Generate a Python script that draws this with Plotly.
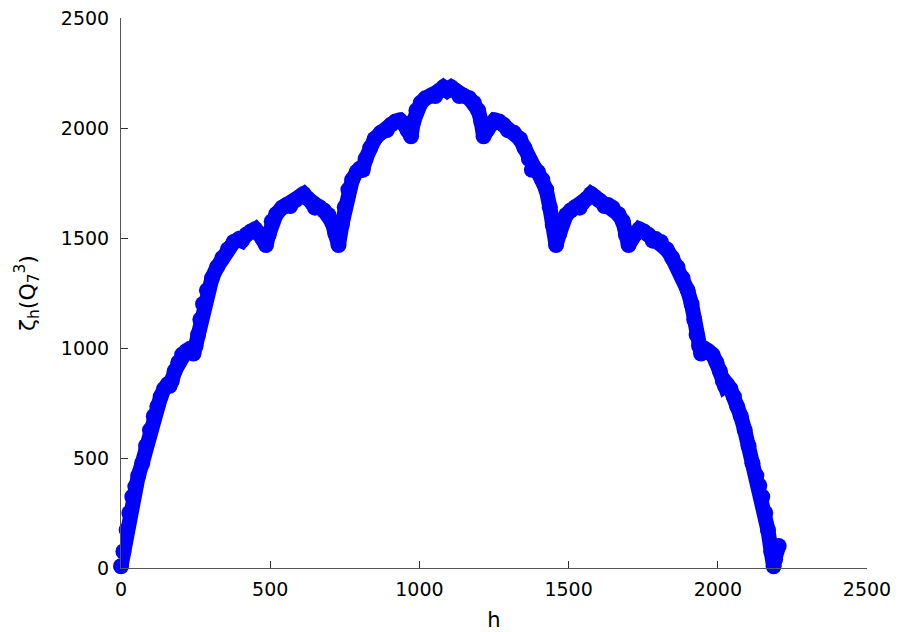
import plotly.graph_objects as go

# h values (number of vertices) and zeta_h(Q_7^3)
h_vals = [
    0, 8, 19, 28, 38, 48, 58, 71, 84, 97, 110, 122, 133, 145, 156, 163, 170, 180, 192, 205,
    218, 230, 243, 250, 258, 266, 275, 288, 305, 322, 340, 358, 378, 395, 405, 420, 435, 450,
    462, 475, 486, 495, 505, 520, 540, 555, 567, 585, 600, 612, 625, 640, 650, 665, 680, 695,
    708, 718, 729,
    740, 750, 762, 775, 790, 800, 810, 820, 835, 850, 870, 891, 905, 920, 935, 950, 960, 972,
    980, 990, 1005, 1020, 1040, 1053, 1065, 1080, 1093,
    1107, 1122, 1134, 1147, 1167, 1182, 1197, 1207, 1215, 1227, 1237, 1252, 1267, 1282, 1296,
    1317, 1337, 1352, 1367, 1377, 1387, 1397, 1412, 1425, 1437, 1447, 1458,
    1469, 1479, 1492, 1507, 1522, 1537, 1547, 1562, 1575, 1587, 1602, 1620, 1632, 1647, 1667,
    1682, 1692, 1701, 1712, 1725, 1737, 1752, 1767, 1782, 1792, 1809, 1829, 1847, 1865, 1882,
    1899, 1912, 1921, 1929, 1937, 1944, 1957, 1969, 1982, 1995, 2007, 2017, 2024, 2031, 2042,
    2054, 2065, 2077, 2090, 2103, 2116, 2129, 2139, 2149, 2159, 2168, 2179, 2187,
    2192, 2198, 2204,
]
zeta_vals = [
    8, 75, 173, 250, 324, 370, 420, 476, 555, 627, 690, 735, 779, 815, 835, 828, 850, 895, 935, 970,
    985, 995, 975, 1010, 1060, 1130, 1200, 1262, 1318, 1368, 1410, 1448, 1482, 1495, 1488, 1515, 1530, 1540,
    1520, 1495, 1468, 1515, 1575, 1608, 1638, 1650, 1645, 1672, 1688, 1700, 1680, 1660, 1638, 1640, 1625, 1605,
    1570, 1520, 1468,
    1560, 1640, 1720, 1765, 1800, 1815, 1810, 1860, 1910, 1950, 1978, 1990, 2015, 2030, 2035, 2015, 1990, 1962,
    2030, 2080, 2115, 2135, 2148, 2145, 2168, 2185, 2170,
    2185, 2168, 2145, 2148, 2135, 2115, 2080, 2030, 1962, 1990, 2015, 2035, 2030, 2015, 1990,
    1978, 1950, 1910, 1860, 1810, 1815, 1800, 1765, 1720, 1640, 1560, 1468,
    1520, 1570, 1605, 1625, 1640, 1638, 1660, 1680, 1700, 1688, 1672, 1645, 1650, 1638, 1608,
    1575, 1515, 1468, 1495, 1520, 1540, 1530, 1515, 1488, 1495, 1482, 1448, 1410, 1368, 1318,
    1262, 1200, 1130, 1060, 1010, 975, 995, 985, 970, 935, 895, 850, 828, 835, 815,
    779, 735, 690, 627, 555, 476, 420, 375, 324, 250, 173, 75, 8,
    40, 80, 100,
]
tick_vals = [0, 500, 1000, 1500, 2000, 2500]
tick_text = ["0", "500", "1000", "1500", "2000", "2500"]

BLUE = "#0000ff"
AX = "#555555"
FONT = "DejaVu Sans"

fig = go.Figure()
fig.add_trace(go.Scatter(
    x=h_vals, y=zeta_vals,
    mode="lines+markers",
    line=dict(color=BLUE, width=15),
    marker=dict(symbol="circle", size=16, color=BLUE, line=dict(width=0)),
    showlegend=False,
    cliponaxis=False,
))

axis_common = dict(
    range=[0, 2500],
    tickvals=tick_vals,
    ticktext=tick_text,
    showline=True,
    linecolor=AX,
    linewidth=1,
    ticks="inside",
    ticklen=7,
    tickcolor="#333333",
    showgrid=False,
    zeroline=False,
    mirror=False,
    automargin=False,
    tickfont=dict(family=FONT, size=19, color="black"),
)

fig.update_layout(
    width=898, height=632,
    margin=dict(l=121, r=31, t=18, b=64, autoexpand=False),
    paper_bgcolor="white",
    plot_bgcolor="white",
    xaxis=dict(**axis_common, ticklabelstandoff=4,
               title=dict(text="h", font=dict(family=FONT, size=21, color="black"), standoff=14)),
    yaxis=dict(**axis_common, ticklabelstandoff=7,
               title=dict(text="ζ<sub>h</sub>(Q<sub>7</sub><sup>3</sup>)",
                          font=dict(family=FONT, size=22, color="black"), standoff=19)),
)

fig.write_html("out.html")
